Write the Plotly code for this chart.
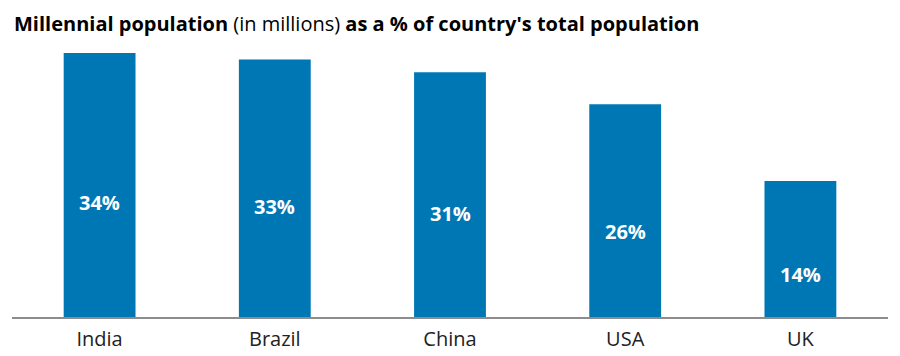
import plotly.graph_objects as go

countries = ["India", "Brazil", "China", "USA", "UK"]
millennial_share = [34, 33, 31, 26, 14]
share_labels = ["34%", "33%", "31%", "26%", "14%"]

AXIS_FLOOR = -7.25
BAR_COLOR = "#0077b5"
FONT = "Open Sans"

fig = go.Figure()
fig.add_trace(go.Bar(
    x=countries,
    y=[v - AXIS_FLOOR for v in millennial_share],
    base=AXIS_FLOOR,
    marker=dict(color=BAR_COLOR, line=dict(width=0)),
    hoverinfo="skip",
))

for c, v, t in zip(countries, millennial_share, share_labels):
    fig.add_annotation(
        x=c, y=0.558 * v - 8.35, text=f"<b>{t}</b>", showarrow=False,
        font=dict(family=FONT, size=20, color="white"),
        xanchor="center", yanchor="middle",
    )

fig.add_annotation(
    xref="paper", yref="paper", x=0, y=1.0, yshift=32, xshift=0,
    xanchor="left", yanchor="top", showarrow=False,
    text="<b>Millennial population</b> (in millions) <b>as a % of country's total population</b>",
    font=dict(family=FONT, size=20, color="#000000"),
)

fig.update_layout(
    width=900, height=356,
    margin=dict(l=4, r=20, t=32, b=47),
    paper_bgcolor="white", plot_bgcolor="white",
    bargap=0.59,
    showlegend=False,
    font=dict(family=FONT),
)
fig.update_xaxes(
    showline=True, linecolor="#8c8c8c", linewidth=2,
    ticks="", showgrid=False, ticklabelstandoff=3,
    tickfont=dict(family=FONT, size=20, color="#222222"),
)
fig.update_yaxes(
    range=[AXIS_FLOOR, 36.03], visible=False, showgrid=False, zeroline=False,
)

fig.write_html("out.html")
